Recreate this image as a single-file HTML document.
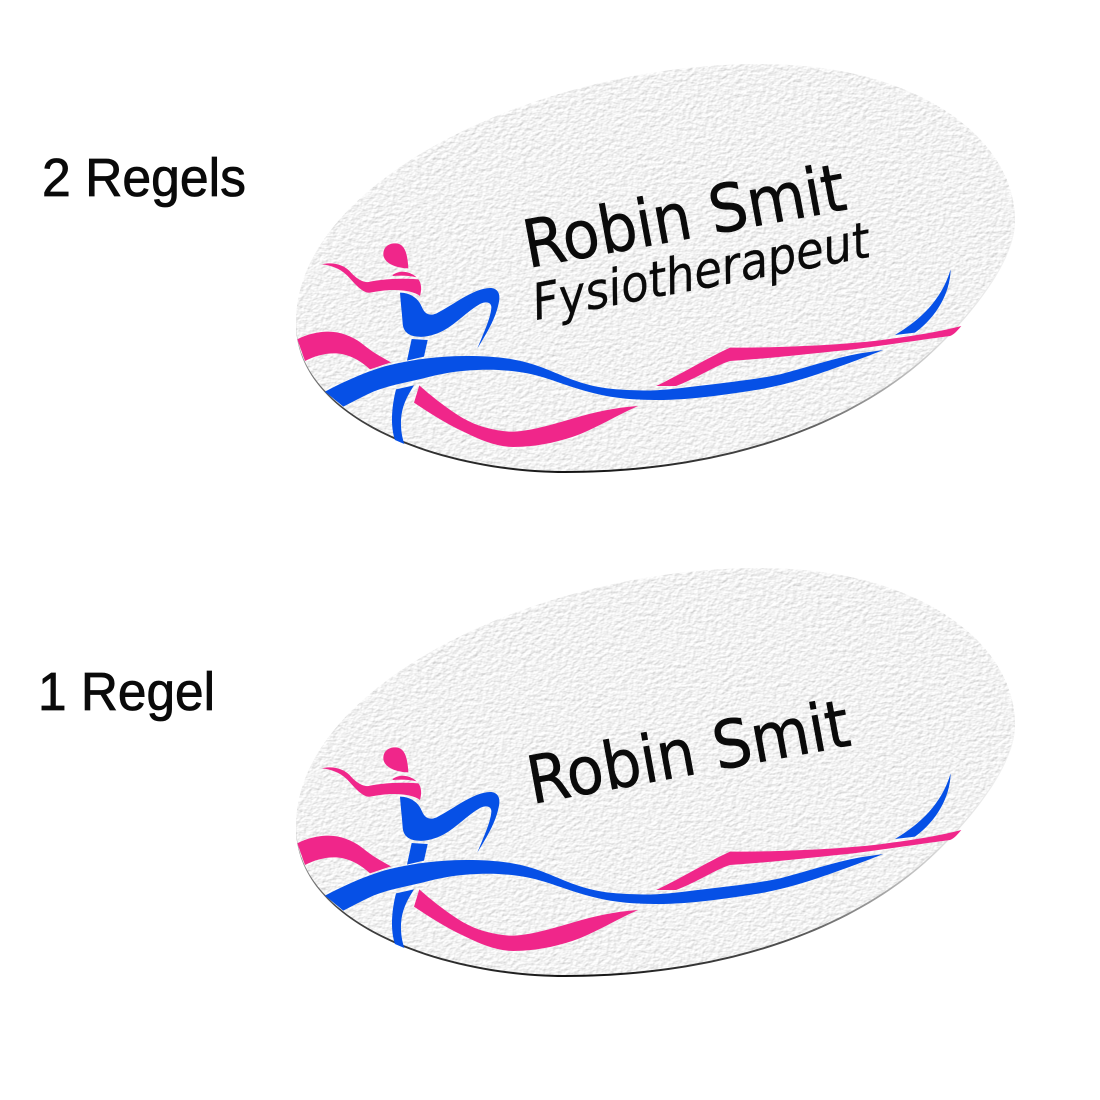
<!DOCTYPE html>
<html><head><meta charset="utf-8"><style>html,body{margin:0;padding:0;background:#fff}svg{display:block}</style></head>
<body>
<svg xmlns="http://www.w3.org/2000/svg" xmlns:xlink="http://www.w3.org/1999/xlink" width="1100" height="1100" viewBox="0 0 1100 1100">
<defs>
<filter id="tex" x="-5%" y="-5%" width="110%" height="110%" color-interpolation-filters="sRGB">
<feTurbulence type="fractalNoise" baseFrequency="0.2 0.27" numOctaves="2" seed="4" result="n"/>
<feDiffuseLighting in="n" surfaceScale="0.5" diffuseConstant="1.05" lighting-color="#ffffff" result="l"><feDistantLight azimuth="235" elevation="65"/></feDiffuseLighting>
<feComposite in="l" in2="SourceAlpha" operator="in"/>
</filter>
<linearGradient id="edge" gradientUnits="userSpaceOnUse" x1="296" y1="0" x2="1015" y2="0">
<stop offset="0" stop-color="#999"/>
<stop offset=".06" stop-color="#444"/>
<stop offset=".4" stop-color="#111"/>
<stop offset=".7" stop-color="#555"/>
<stop offset=".9" stop-color="#ddd"/>
<stop offset="1" stop-color="#f4f4f4"/>
</linearGradient>
<path id="shape" d="M296 322C296 180 540 64 760 64C920 64 1015 140 1015 220C1015 265 958 328 925 357C849 424 725 471 565 471C444 471 296 419 296 322Z"/>
<g id="badge">
<use xlink:href="#shape" href="#shape" y="2" fill="url(#edge)"/>
<use xlink:href="#shape" href="#shape" fill="#f1f1f1" filter="url(#tex)"/>
<g transform="translate(290 230) scale(.33333)">
<path fill="#f0268a" d="M315 40C340 40 352 60 355 115C320 115 280 100 280 72C280 52 295 40 315 40Z"/>
<path fill="#f0268a" d="M308 135C325 122 355 120 380 142C355 136 330 136 308 138Z"/>
<path fill="#f0268a" d="M96 103C130 95 165 105 185 130C205 150 225 160 240 155C290 145 350 145 385 148C395 160 395 180 390 198C365 178 300 175 240 188C215 190 190 155 170 135C150 115 120 105 96 103Z"/>
<path fill="#0650e6" d="M330 188C360 188 385 205 395 230C405 255 420 258 440 250C490 225 550 175 600 174C622 174 632 190 627 215C618 265 590 310 562 356C580 310 600 270 604 235C606 218 590 212 570 222C530 245 500 280 460 302C430 318 400 322 385 320C355 318 340 305 338 280C336 250 332 220 330 188Z"/>
</g>
<g transform="translate(290 300) scale(.33333)">
<path fill="#f0268a" d="M22 118C50 103 85 95 115 95C150 95 185 108 215 130C245 155 275 172 303 187L240 208C215 185 190 170 160 163C120 155 80 165 45 183Z"/>
<path fill="#f0268a" d="M388 256C420 285 470 325 520 355C560 378 610 392 660 395C720 395 790 372 850 355C920 335 980 322 1045 318C990 340 920 385 850 410C790 430 730 441 670 441C620 441 570 420 520 395C470 372 420 340 372 308Z"/>
<path fill="#0650e6" d="M365 117L413 120L402 170L351 182Z"/>
<path fill="#0650e6" d="M318 268L372 256C350 290 335 320 333 360C332 390 336 410 343 432L315 420C305 390 300 340 318 268Z"/>
<path fill="#0650e6" d="M105 275C170 240 240 210 300 195C370 178 450 168 530 168C600 168 650 173 700 185C760 200 800 222 850 240C900 258 940 265 980 268C1040 272 1090 272 1140 272L1140 298C1090 300 1040 300 1000 295C950 290 900 278 850 262C800 246 750 226 700 218C650 210 610 208 560 210C500 212 450 222 400 235C350 247 300 255 250 275C220 288 190 305 160 320Z"/>
</g>
<g transform="translate(620 250) scale(.33333)">
<path fill="#f0268a" d="M108 408C180 375 260 325 330 293C480 293 680 285 800 268C880 258 960 245 1024 228C1010 245 1000 255 990 258C900 270 800 285 700 298C580 310 450 325 330 333C290 345 230 385 168 408Z"/>
<path fill="#0650e6" d="M60 422C130 422 200 412 200 412C300 400 400 390 480 373C560 352 640 325 720 310L790 300C740 320 660 350 600 370C540 390 490 405 420 418C340 430 220 450 110 450C90 450 75 449 60 449Z"/>
<path fill="#0650e6" d="M825 255C900 210 965 150 992 58C990 130 950 200 885 248Z"/>
</g>
</g>
</defs>
<use xlink:href="#badge" href="#badge"/>
<use xlink:href="#badge" href="#badge" y="504"/>
<g font-family="'DejaVu Sans',sans-serif" fill="#0a0a0a" stroke="#0a0a0a" stroke-width=".6">
<text x="528" y="268" font-size="66" textLength="326" lengthAdjust="spacingAndGlyphs" transform="rotate(-10.4 528 268)">Robin Smit</text>
<text x="536" y="320" font-size="50" font-style="italic" stroke-width=".3" textLength="342" lengthAdjust="spacingAndGlyphs" transform="rotate(-10.7 536 320)">Fysiotherapeut</text>
<text x="532" y="804" font-size="66" textLength="326" lengthAdjust="spacingAndGlyphs" transform="rotate(-10.4 532 804)">Robin Smit</text>
</g>
<g font-family="'Liberation Sans',sans-serif" fill="#0a0a0a" stroke="#0a0a0a" stroke-width=".8">
<text x="42" y="196" font-size="54" textLength="204" lengthAdjust="spacingAndGlyphs">2 Regels</text>
<text x="38" y="710" font-size="54" textLength="177" lengthAdjust="spacingAndGlyphs">1 Regel</text>
</g>
</svg>
</body></html>
